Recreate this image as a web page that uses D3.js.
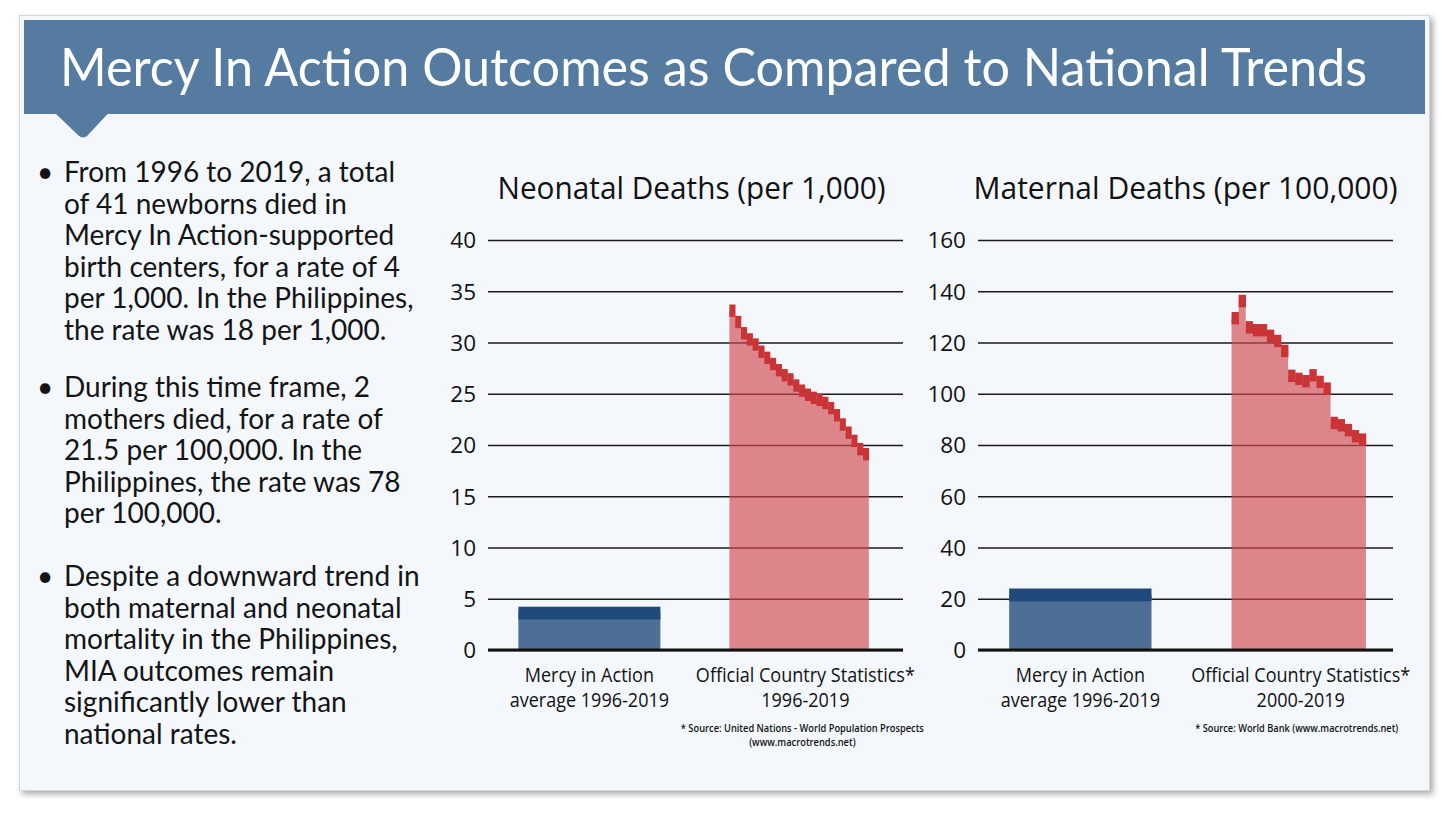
<!DOCTYPE html>
<html><head><meta charset="utf-8">
<script src="https://cdn.jsdelivr.net/npm/d3@7"></script>
<style>
html,body{margin:0;padding:0;background:#ffffff;}
svg{display:block;}
</style></head>
<body>
<svg id="chart" width="1448" height="818"></svg>
<script>
// ---------------- DATA ----------------
const titleText = "Mercy In Action Outcomes as Compared to National Trends";
const categories = ["Mercy in Action", "Official Country Statistics*"];

const neonatalTitle = "Neonatal Deaths (per 1,000)";
const neonatalYears = ["1996","1997","1998","1999","2000","2001","2002","2003","2004","2005","2006","2007",
                       "2008","2009","2010","2011","2012","2013","2014","2015","2016","2017","2018","2019"];
const neonatalRates = [33.1,32.0,30.9,30.3,29.8,29.1,28.5,27.9,27.3,26.8,26.4,25.8,
                       25.3,24.9,24.6,24.4,24.1,23.6,22.9,22.0,21.2,20.4,19.6,19.1];
const neonatalMiaRate = [3.6];
const neonatalTicks = [0,5,10,15,20,25,30,35,40];
const neonatalCategoryLabels = [["Mercy in Action","average 1996-2019"],["Official Country Statistics*","1996-2019"]];
const neonatalSource = ["* Source: United Nations - World Population Prospects","(www.macrotrends.net)"];

const maternalTitle = "Maternal Deaths (per 100,000)";
const maternalYears = ["2000","2001","2002","2003","2004","2005","2006","2007","2008","2009",
                       "2010","2011","2012","2013","2014","2015","2016","2017","2018"];
const maternalRates = [129.5,136.2,125.9,124.8,124.8,122.6,120.6,116.7,107.0,105.8,
                       104.9,107.2,104.6,102.0,88.6,87.7,85.8,83.4,82.1];
const maternalMiaRate = [21.5];
const maternalTicks = [0,20,40,60,80,100,120,140,160];
const maternalCategoryLabels = [["Mercy in Action","average 1996-2019"],["Official Country Statistics*","2000-2019"]];
const maternalSource = ["* Source: World Bank (www.macrotrends.net)"];

const bullets = [
  ["From 1996 to 2019, a total","of 41 newborns died in","Mercy In Action-supported","birth centers, for a rate of 4","per 1,000. In the Philippines,","the rate was 18 per 1,000."],
  ["During this time frame, 2","mothers died, for a rate of","21.5 per 100,000. In the","Philippines, the rate was 78","per 100,000."],
  ["Despite a downward trend in","both maternal and neonatal","mortality in the Philippines,","MIA outcomes remain","significantly lower than","national rates."]
];

// ---------------- HELPERS ----------------
function squeezeTo(sel, target){
  const w = sel.node().getComputedTextLength();
  return target / w;
}
function squeeze(sel, k){
  sel.each(function(){
    const w = this.getComputedTextLength();
    d3.select(this).attr("textLength", w*k).attr("lengthAdjust","spacingAndGlyphs");
  });
}

const svg = d3.select("#chart");
const defs = svg.append("defs");
const f = defs.append("filter").attr("id","shadow").attr("x","-5%").attr("y","-5%").attr("width","110%").attr("height","110%");
f.append("feDropShadow").attr("dx",3).attr("dy",3).attr("stdDeviation",3).attr("flood-color","#000").attr("flood-opacity",0.35);

// card
svg.append("rect").attr("x",19.5).attr("y",15.5).attr("width",1410).attr("height",775)
  .attr("fill","#f4f8fd").attr("stroke","#d6d6d6").attr("filter","url(#shadow)");
// header
svg.append("rect").attr("x",24).attr("y",20).attr("width",1401).attr("height",94).attr("fill","#557ba0");
svg.append("path").attr("d","M55,113 L78.5,135.5 Q83,139.5 87.5,135.5 L108.5,113 Z").attr("fill","#557ba0");

const title = svg.append("text").attr("x",60).attr("y",86)
  .attr("font-family","Lato, 'Open Sans', sans-serif").attr("font-size",53).attr("fill","#ffffff")
  .text(titleText);
squeeze(title, squeezeTo(title, 1307));

// bullets
const bulletFont = "Lato, 'Open Sans', sans-serif";
const bulletStarts = [182, 397, 586];
const lineH = 31.6;
const bg = svg.append("g").attr("fill","#141414").attr("font-family",bulletFont).attr("font-size",28);
bullets.forEach((lines,bi)=>{
  bg.append("text").attr("x",37).attr("y",bulletStarts[bi]).text("•");
  lines.forEach((ln,li)=>{
    bg.append("text").attr("class","bl").attr("x",64).attr("y",bulletStarts[bi]+li*lineH).text(ln);
  });
});
const bLines = bg.selectAll("text.bl");
const kB = squeezeTo(d3.select(bLines.nodes()[0]), 331);
squeeze(bLines, kB);

// ---------------- CHARTS ----------------
const chartFont = "'Open Sans', 'Noto Sans', sans-serif";
const y0 = 650, yTop = 240;

function drawChart(cfg){
  const g = svg.append("g");
  const y = d3.scaleLinear().domain([0, cfg.ticks[cfg.ticks.length-1]]).range([y0, yTop]);
  const x = d3.scaleBand().domain(categories).range([cfg.left, cfg.left+cfg.width])
    .paddingInner(cfg.pIn).paddingOuter(cfg.pOut).align(cfg.align);

  // gridlines + tick labels
  const axis = d3.axisLeft(y).tickValues(cfg.ticks).tickSize(-cfg.width).tickPadding(12).tickFormat(d3.format("d"));
  const ag = g.append("g").attr("transform",`translate(${cfg.left},0)`).call(axis);
  ag.select(".domain").remove();
  ag.selectAll(".tick line").attr("stroke","#1a1a1a").attr("stroke-width",1.5);
  ag.selectAll(".tick text").attr("fill","#111").attr("font-family",chartFont).attr("font-size",22.5).attr("dy","0.35em");

  // MIA bar
  const bx = x(categories[0]), bw = x.bandwidth();
  g.selectAll("rect.mia").data(cfg.mia).join("rect").attr("class","mia")
    .attr("x",bx).attr("width",bw).attr("y",d=>y(d)).attr("height",d=>y0-y(d)).attr("fill","#4d6f96");
  g.selectAll("rect.miaTop").data(cfg.mia).join("rect").attr("class","miaTop")
    .attr("x",bx).attr("width",bw).attr("y",d=>y(d)-6.4).attr("height",12.8).attr("fill","#1f4a7b");

  // official series
  const ox = x(categories[1]);
  const xs = d3.scaleBand().domain(cfg.years).range([ox, ox + bw*cfg.seriesFrac]);
  const pts = cfg.years.map((yr,i)=>[xs(yr), cfg.values[i]]);
  pts.push([xs(cfg.years[cfg.years.length-1]) + xs.bandwidth(), cfg.values[cfg.values.length-1]]);
  const area = d3.area().x(d=>d[0]).y0(y0).y1(d=>y(d[1])).curve(d3.curveStepAfter);
  g.append("path").datum(pts).attr("d",area).attr("fill","#d0484e").attr("fill-opacity",0.65);
  g.selectAll("rect.step").data(cfg.values).join("rect").attr("class","step")
    .attr("x",(d,i)=>xs(cfg.years[i])).attr("width",xs.bandwidth()+0.3)
    .attr("y",d=>y(d)-6.2).attr("height",12.4).attr("fill","#cb3436");

  // baseline
  g.append("line").attr("x1",cfg.left).attr("x2",cfg.left+cfg.width).attr("y1",y0).attr("y2",y0)
    .attr("stroke","#111").attr("stroke-width",2.8);

  // title
  const t = g.append("text").attr("x",cfg.left+cfg.width/2 + (cfg.titleDx||0)).attr("y",199).attr("text-anchor","middle")
    .attr("font-family",chartFont).attr("font-size",30.5).attr("fill","#111").text(cfg.title);
  squeeze(t, squeezeTo(t, cfg.titleW));

  // category labels
  const labs = [];
  cfg.catLabels.forEach((lines,ci)=>{
    const cx = x(categories[ci]) + bw/2 + (ci===1 ? cfg.labDx : 0);
    lines.forEach((ln,li)=>{
      labs.push(g.append("text").attr("x",cx).attr("y",682+li*25).attr("text-anchor","middle")
        .attr("font-family",chartFont).attr("font-size",19.8).attr("fill","#111").text(ln).node());
    });
  });
  const ref = d3.select(labs[2]);
  squeeze(d3.selectAll(labs), squeezeTo(ref, cfg.offW));

  // source
  const src = [];
  cfg.source.forEach((ln,li)=>{
    src.push(g.append("text").attr("x",ox + bw/2 + cfg.srcDx).attr("y",731.5+li*14).attr("text-anchor","middle")
      .attr("font-family",chartFont).attr("font-size",cfg.srcSize).attr("font-weight",600).attr("fill","#111").text(ln).node());
  });
  squeeze(d3.selectAll(src), squeezeTo(d3.select(src[0]), cfg.srcW));
}

drawChart({left:488, width:415, pIn:0.327, pOut:0.147, align:0.49, seriesFrac:0.982,
  ticks:neonatalTicks, years:neonatalYears, values:neonatalRates, mia:neonatalMiaRate,
  title:neonatalTitle, titleW:388, titleDx:-4, catLabels:neonatalCategoryLabels, labDx:5, offW:219,
  source:neonatalSource, srcDx:2, srcW:243, srcSize:10.6});
drawChart({left:978, width:415, pIn:0.36, pOut:0.113, align:0.62, seriesFrac:0.944,
  ticks:maternalTicks, years:maternalYears, values:maternalRates, mia:maternalMiaRate,
  title:maternalTitle, titleW:424, titleDx:0, catLabels:maternalCategoryLabels, labDx:-2, offW:219,
  source:maternalSource, srcDx:-6, srcW:203, srcSize:10.2});
</script>
</body></html>
